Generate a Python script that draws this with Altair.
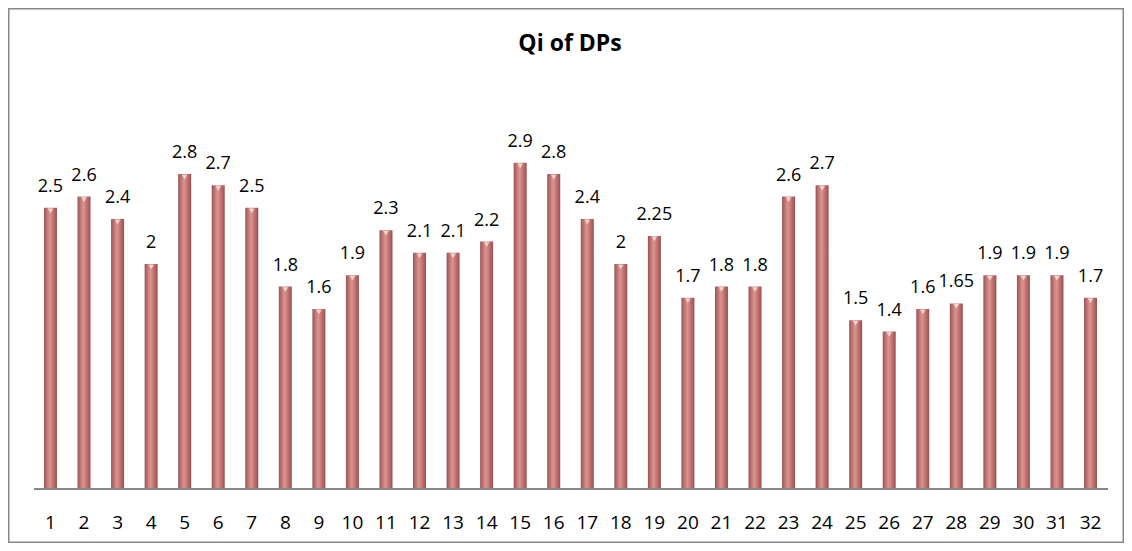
import altair as alt
import pandas as pd

categories = [str(i) for i in range(1, 33)]
values = [2.5, 2.6, 2.4, 2, 2.8, 2.7, 2.5, 1.8, 1.6, 1.9, 2.3, 2.1, 2.1, 2.2, 2.9, 2.8,
          2.4, 2, 2.25, 1.7, 1.8, 1.8, 2.6, 2.7, 1.5, 1.4, 1.6, 1.65, 1.9, 1.9, 1.9, 1.7]
title_text = "Qi of DPs"

df = pd.DataFrame({"cat": categories, "value": values})

W, H = 1116, 535
FONT = "Open Sans"

x = alt.X("cat:N", sort=categories, title=None,
          scale=alt.Scale(paddingInner=0, paddingOuter=0.632, align=0.606),
          axis=alt.Axis(labelAngle=0, domain=False, ticks=False, offset=-54,
                        labelPadding=24, labelFontSize=19, labelColor="#000000",
                        labelFont=FONT, grid=False))
yscale = alt.Scale(domain=[-0.48, 4.2756], nice=False, zero=False)
y = alt.Y("value:Q", scale=yscale, axis=None)

grad = alt.Gradient(
    gradient="linear", x1=0, x2=1, y1=0, y2=0,
    stops=[alt.GradientStop(color="#995453", offset=0),
           alt.GradientStop(color="#CB807E", offset=0.3),
           alt.GradientStop(color="#D99492", offset=0.45),
           alt.GradientStop(color="#C47472", offset=0.7),
           alt.GradientStop(color="#955150", offset=1)])

base = alt.Chart(df)

bars = base.mark_bar(width=13, fill=grad).encode(x=x, y=y, y2=alt.datum(0))

caps = base.mark_point(shape="triangle-down", filled=True, size=30,
                       color="#F4D2CF", opacity=1, yOffset=3).encode(
    x=alt.X("cat:N", sort=categories), y=alt.Y("value:Q", scale=yscale))

labels = base.mark_text(baseline="alphabetic", dy=-16, fontSize=18, font=FONT,
                        color="#000000").encode(
    x=alt.X("cat:N", sort=categories), y=alt.Y("value:Q", scale=yscale),
    text=alt.Text("value:Q", format="~g"))

baseline = alt.Chart(pd.DataFrame({"v": [0]})).mark_rule(
    color="#868686", strokeWidth=2).encode(
    y=alt.Y("v:Q", scale=yscale), x=alt.value(26), x2=alt.value(1100))

title = alt.Chart(pd.DataFrame({"t": [title_text]})).mark_text(
    fontSize=23, fontWeight="bold", font=FONT, color="#000000",
    align="center", baseline="middle").encode(
    text="t:N", x=alt.value(562), y=alt.value(36))

chart = alt.layer(bars, caps, labels, baseline, title).properties(
    width=W, height=H, autosize=alt.AutoSizeParams(type="none"), padding=0
).configure_view(stroke="#888888", strokeWidth=3)

chart.save("out.html", embed_options={"renderer": "svg", "actions": False})
